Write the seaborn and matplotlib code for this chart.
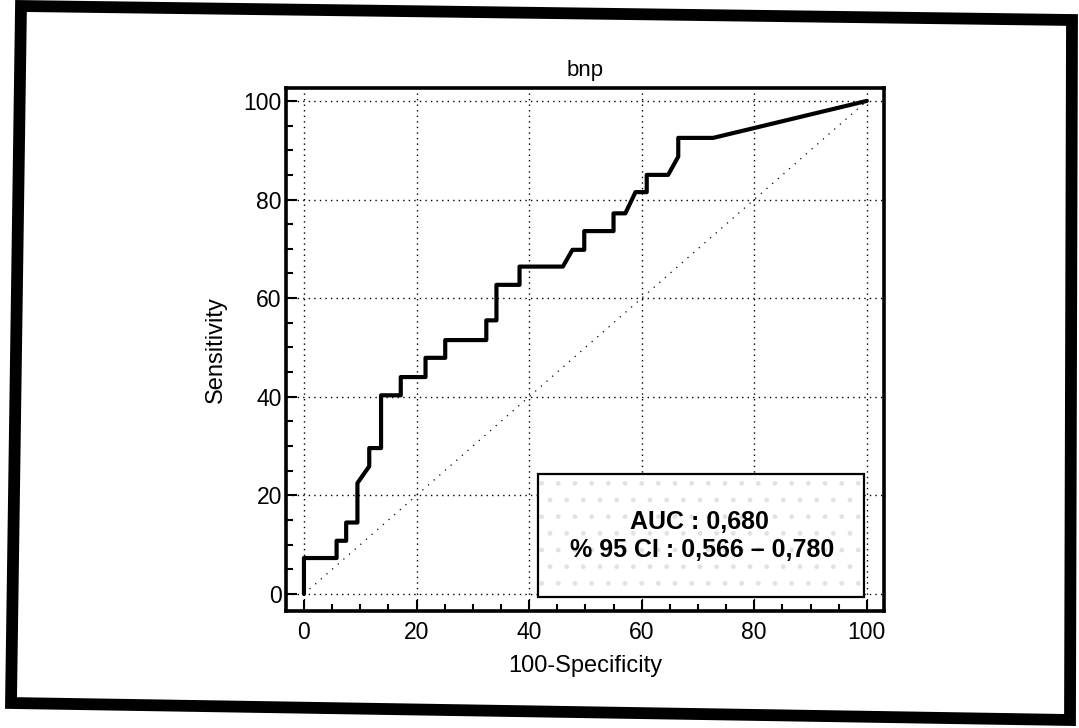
import numpy as np
import pandas as pd
import matplotlib
matplotlib.use("Agg")
import matplotlib.pyplot as plt
from matplotlib.patches import Rectangle, Polygon
from matplotlib.ticker import MultipleLocator
import seaborn as sns

# ---- data ----
fpr = [0, 0, 5.8, 5.8, 7.5, 7.5, 9.5, 9.5, 11.6, 11.6, 13.7, 13.7, 17.2, 17.2,
       21.6, 21.6, 25.1, 25.1, 32.4, 32.4, 34.2, 34.2, 38.3, 38.3, 46.0, 47.7,
       49.8, 49.8, 55.0, 55.0, 57.1, 58.9, 60.9, 60.9, 64.7, 66.5, 66.5, 72.7, 100]
tpr = [0, 7.3, 7.3, 10.8, 10.8, 14.5, 14.5, 22.5, 25.9, 29.6, 29.6, 40.3, 40.3, 44.0,
       44.0, 47.9, 47.9, 51.5, 51.5, 55.5, 55.5, 62.7, 62.7, 66.4, 66.4, 69.8,
       69.8, 73.6, 73.6, 77.2, 77.2, 81.5, 81.5, 85.0, 85.0, 88.7, 92.5, 92.5, 100]
diag_x = [0, 100]
diag_y = [0, 100]
ticks = [0, 20, 40, 60, 80, 100]
title = "bnp"
xlabel = "100-Specificity"
ylabel = "Sensitivity"
auc_text = "AUC : 0,680"
ci_text = "% 95 CI : 0,566 \u2013 0,780"

sns.set_theme(style="white")
plt.rcParams['font.family'] = ['Liberation Sans', 'DejaVu Sans']
plt.rcParams['text.color'] = 'black'
plt.rcParams['axes.labelcolor'] = 'black'
plt.rcParams['xtick.color'] = 'black'
plt.rcParams['ytick.color'] = 'black'
plt.rcParams['hatch.linewidth'] = 1.0

fig = plt.figure(figsize=(10.79, 7.28), dpi=100)
ax = fig.add_axes([0.265, 0.161, 0.554, 0.718])

roc = pd.DataFrame({"x": fpr, "y": tpr})
sns.lineplot(data=roc, x="x", y="y", sort=False, estimator=None, ax=ax,
             color="black", linewidth=3.0, zorder=4)
dg = pd.DataFrame({"x": diag_x, "y": diag_y})
sns.lineplot(data=dg, x="x", y="y", sort=False, estimator=None, ax=ax,
             color="black", linewidth=0.9, linestyle=(0, (1, 5)), zorder=2)

ax.set_xlim(-3.2, 103.0)
ax.set_ylim(-3.4, 102.6)
ax.set_xticks(ticks)
ax.set_yticks(ticks)
ax.xaxis.set_minor_locator(MultipleLocator(5))
ax.yaxis.set_minor_locator(MultipleLocator(5))
ax.grid(True, which="major", color="black", linestyle=(0, (1, 3)), linewidth=1.0)
ax.set_axisbelow(True)

ax.tick_params(axis="both", which="major", direction="in", length=8, width=1.5,
               colors="black", labelcolor="black", labelsize=16.5, bottom=True, left=True)
ax.tick_params(axis="both", which="minor", direction="in", length=5, width=1.5,
               colors="black", bottom=True, left=True)
ax.tick_params(axis="x", which="major", pad=7)
ax.tick_params(axis="y", which="major", pad=3)

for s in ax.spines.values():
    s.set_color("black")
    s.set_linewidth(2.6)

ax.set_title(title, fontsize=16, pad=9, color="black")
ax.set_xlabel(xlabel, fontsize=17, labelpad=8, color="black")
ax.set_ylabel(ylabel, fontsize=17, labelpad=12, color="black")

# AUC box
hatched = Rectangle((41.5, -0.7), 58.0, 25.1, facecolor="white", edgecolor="#e2e2e2",
                    hatch=".", linewidth=0, zorder=5)
ax.add_patch(hatched)
box = Rectangle((41.5, -0.7), 58.0, 25.1, facecolor="none", edgecolor="black",
                linewidth=1.6, zorder=6)
ax.add_patch(box)
ax.text(70.3, 14.7, auc_text, ha="center", va="center", fontsize=18,
        fontweight="bold", color="black", zorder=7)
ax.text(70.8, 8.9, ci_text, ha="center", va="center", fontsize=18,
        fontweight="bold", color="black", zorder=7)

# scanned page frame
W, H = 1079.0, 728.0
corners = [(21 / W, 1 - 6 / H), (1072 / W, 1 - 20 / H),
           (1070 / W, 1 - 720 / H), (11 / W, 1 - 703 / H)]
frame = Polygon(corners, closed=True, fill=False, edgecolor="black",
                linewidth=8.5, transform=fig.transFigure, joinstyle="miter")
fig.patches.append(frame)

fig.savefig("out.png", dpi=100, facecolor="white")
